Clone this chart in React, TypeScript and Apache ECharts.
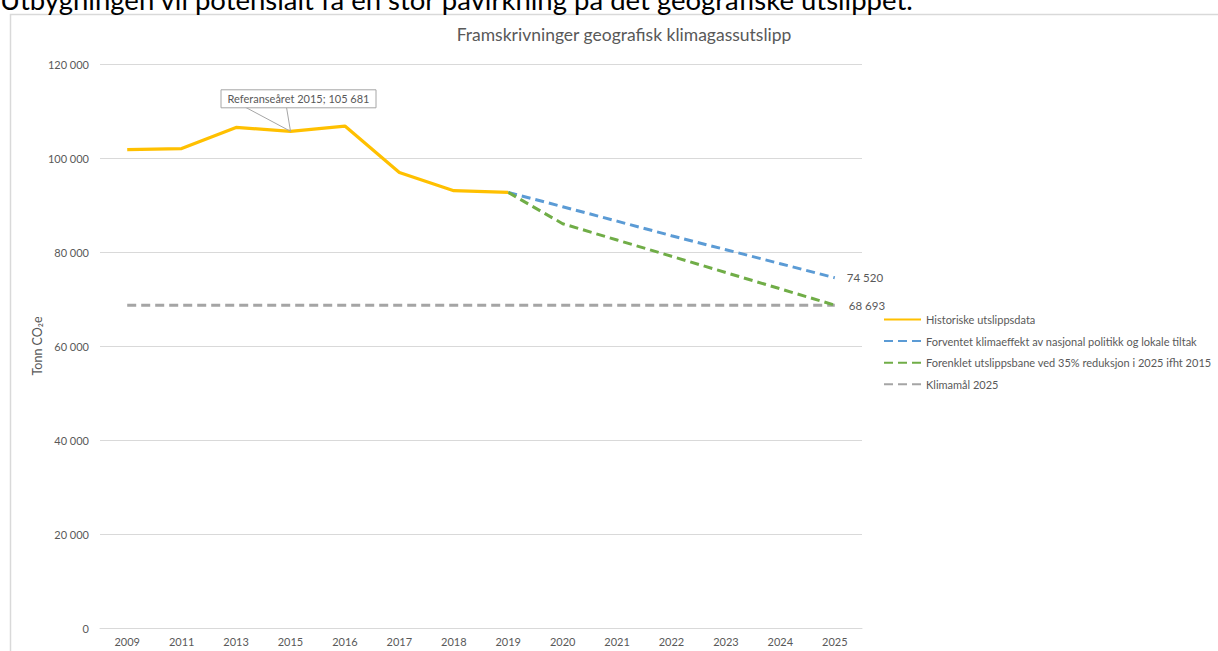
import React, { useEffect, useRef } from "react";
import * as echarts from "echarts";

const years = ["2009", "2011", "2013", "2015", "2016", "2017", "2018", "2019", "2020", "2021", "2022", "2023", "2024", "2025"];
const historical = [101800, 102000, 106500, 105681, 106800, 96900, 93050, 92680, null, null, null, null, null, null];
const expected = [null, null, null, null, null, null, null, 92680, 89640, 86560, 83470, 80490, 77510, 74520];
const simplified = [null, null, null, null, null, null, null, 92680, 86020, 82550, 79090, 75620, 72160, 68693];
const target = [68693, 68693, 68693, 68693, 68693, 68693, 68693, 68693, 68693, 68693, 68693, 68693, 68693, 68693];
const seriesNames = [
  "Historiske utslippsdata",
  "Forventet klimaeffekt av nasjonal politikk og lokale tiltak",
  "Forenklet utslippsbane ved 35% reduksjon i 2025 ifht 2015",
  "Klimamål 2025",
];
const yTicks = [0, 20000, 40000, 60000, 80000, 100000, 120000];
const refIndex = 3;
const refValue = 105681;

const FONT = "Lato, 'Open Sans', sans-serif";
const GREY_TEXT = "#595959";

const fmt = (n: number) => String(Math.round(n)).replace(/\B(?=(\d{3})+(?!\d))/g, " ");

export default function App() {
  const ref = useRef<HTMLDivElement>(null);
  useEffect(() => {
    document.body.style.margin = "0";
    if (!ref.current) return;
    const chart = echarts.init(ref.current, undefined, { renderer: "svg" });
    const endLabel = (dist: number) => ({
      show: true,
      distance: dist,
      formatter: (p: any) => fmt(Array.isArray(p.value) ? p.value[1] : p.value),
      color: GREY_TEXT,
      fontSize: 11.5,
      fontFamily: FONT,
    });
    chart.setOption({
      animation: false,
      textStyle: { fontFamily: FONT },
      title: {
        text: "Framskrivninger geografisk klimagassutslipp",
        left: 619,
        textAlign: "center",
        top: 20,
        textStyle: { fontSize: 17.5, fontWeight: "normal", color: GREY_TEXT, fontFamily: FONT },
      },
      grid: { left: 100, right: 356, top: 64, bottom: 23, containLabel: false },
      legend: {
        orient: "vertical",
        left: 878,
        top: 309,
        itemWidth: 37,
        itemHeight: 12,
        itemGap: 10.6,
        data: seriesNames,
        itemStyle: { opacity: 0 },
        textStyle: { color: GREY_TEXT, fontSize: 11, fontFamily: FONT },
      },
      xAxis: {
        type: "category",
        data: years,
        boundaryGap: true,
        axisLine: { lineStyle: { color: "#d9d9d9", width: 1 } },
        axisTick: { show: false },
        axisLabel: { color: GREY_TEXT, fontSize: 11, margin: 8, fontFamily: FONT },
      },
      yAxis: {
        type: "value",
        min: yTicks[0],
        max: yTicks[yTicks.length - 1],
        interval: yTicks[1] - yTicks[0],
        name: "Tonn CO₂e",
        nameLocation: "middle",
        nameGap: 56,
        nameMoveOverlap: false,
        nameTextStyle: { color: GREY_TEXT, fontSize: 12.5, fontFamily: FONT },
        axisLine: { show: false },
        axisTick: { show: false },
        splitLine: { lineStyle: { color: "#d9d9d9", width: 1 } },
        axisLabel: { color: GREY_TEXT, fontSize: 11, margin: 11, formatter: (v: number) => fmt(v), fontFamily: FONT },
      },
      series: [
        {
          name: seriesNames[0],
          type: "line",
          data: historical,
          symbol: "none",
          lineStyle: { color: "#FFC000", width: 3.2 },
          itemStyle: { color: "#FFC000" },
          z: 5,
        },
        {
          name: seriesNames[1],
          type: "line",
          data: expected,
          symbol: "none",
          endLabel: endLabel(12),
          lineStyle: { color: "#5B9BD5", width: 3, type: [9, 5] },
          itemStyle: { color: "#5B9BD5" },
          z: 4,
        },
        {
          name: seriesNames[2],
          type: "line",
          data: simplified,
          symbol: "none",
          endLabel: endLabel(14),
          lineStyle: { color: "#70AD47", width: 3, type: [9, 5] },
          itemStyle: { color: "#70AD47" },
          z: 4,
        },
        {
          name: seriesNames[3],
          type: "line",
          data: target,
          symbol: "none",
          lineStyle: { color: "#A5A5A5", width: 3, type: [9, 5] },
          itemStyle: { color: "#A5A5A5" },
          z: 3,
        },
      ],
    });

    const pt = chart.convertToPixel({ seriesIndex: 0 }, [refIndex, refValue]) as number[];
    const boxW = 155;
    const boxH = 18;
    const boxX = pt[0] - 70;
    const boxY = pt[1] - 42;
    chart.setOption({
      graphic: [
        {
          type: "text",
          left: 0,
          top: -15,
          style: {
            text: "Utbygningen vil potensialt få en stor påvirkning på det geografiske utslippet.",
            fill: "#000",
            fontSize: 27.5,
            fontFamily: FONT,
          },
          z: 10,
        },
        {
          type: "rect",
          shape: { x: 10.5, y: 14.5, width: 1400, height: 1000 },
          style: { fill: "none", stroke: "#d9d9d9", lineWidth: 1.5 },
          silent: true,
          z: -1,
        },
        {
          type: "polyline",
          shape: {
            points: [
              [pt[0] - 45, boxY + boxH],
              [pt[0], pt[1]],
              [pt[0] - 4, boxY + boxH],
            ],
          },
          style: { fill: "none", stroke: "#a6a6a6", lineWidth: 1 },
          z: 20,
        },
        {
          type: "rect",
          shape: { x: boxX + 0.5, y: boxY + 0.5, width: boxW, height: boxH },
          style: { fill: "#fff", stroke: "#a6a6a6", lineWidth: 1 },
          z: 20,
        },
        {
          type: "text",
          x: boxX + 0.5 + boxW / 2,
          y: boxY + 0.5 + boxH / 2,
          style: {
            text: `Referanseåret 2015; ${fmt(refValue)}`,
            fill: GREY_TEXT,
            fontSize: 11,
            fontFamily: FONT,
            align: "center",
            verticalAlign: "middle",
          },
          z: 21,
        },
      ],
    });
    return () => chart.dispose();
  }, []);
  return <div ref={ref} style={{ width: 1218, height: 651 }} />;
}
